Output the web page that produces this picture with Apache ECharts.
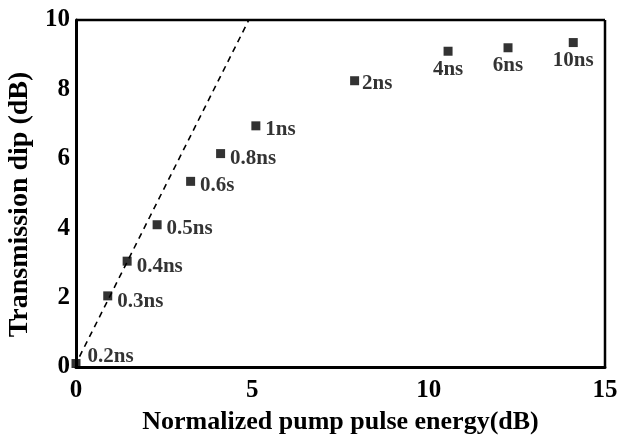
<!DOCTYPE html>
<html>
<head>
<meta charset="UTF-8">
<title></title>
<style>
  html, body { margin: 0; padding: 0; background: #fff; }
  #main { width: 622px; height: 437px; }
</style>
</head>
<body>
<div id="main"></div>
<script src="https://cdn.jsdelivr.net/npm/echarts@6/dist/echarts.min.js"></script>
<script>
// pulse durations and measured points
var pulseLabels = ['0.2ns', '0.3ns', '0.4ns', '0.5ns', '0.6s', '0.8ns', '1ns', '2ns', '4ns', '6ns', '10ns'];
var energyX = [0, 0.9, 1.45, 2.3, 3.25, 4.1, 5.1, 7.9, 10.55, 12.25, 14.1];
var dipY = [0.1, 2.05, 3.05, 4.1, 5.35, 6.15, 6.95, 8.25, 9.1, 9.2, 9.35];
// linear guide (dashed)
var guideX = [0.1, 4.9];
var guideY = [0.3, 10];

var font = 'Liberation Serif, Times New Roman, serif';

// label placement per point
var labelPos = ['right', 'right', 'right', 'right', 'right', 'right', 'right', 'right', 'bottom', 'bottom', 'bottom'];
var labelOff = [[2, -7], [0, 6], [0, 5], [0, 4], [0, 4], [0, 5], [0, 4], [-2, 3], [0, -2], [0, -2], [0, -2]];

var pts = energyX.map(function (x, i) {
  return {
    value: [x, dipY[i]],
    label: { position: labelPos[i], offset: labelOff[i], formatter: pulseLabels[i] }
  };
});

var chart = echarts.init(document.getElementById('main'));
chart.setOption({
  animation: false,
  grid: { left: 76, right: 17, top: 20, bottom: 70, outerBoundsMode: 'none', containLabel: false },
  xAxis: {
    type: 'value', min: 0, max: 15, interval: 5,
    name: 'Normalized pump pulse energy(dB)', nameLocation: 'middle', nameGap: 42,
    nameTextStyle: { fontFamily: font, fontWeight: 'bold', fontSize: 26, color: '#000' },
    axisLine: { lineStyle: { color: '#000', width: 3 } },
    axisTick: { show: false },
    splitLine: { show: false },
    axisLabel: { fontFamily: font, fontWeight: 'bold', fontSize: 25, color: '#000', margin: 11 }
  },
  yAxis: {
    type: 'value', min: 0, max: 10, interval: 2,
    name: 'Transmission dip (dB)', nameLocation: 'middle', nameGap: 41,
    nameTextStyle: { fontFamily: font, fontWeight: 'bold', fontSize: 28, color: '#000', padding: [0, 22, 0, 0] },
    axisLine: { lineStyle: { color: '#000', width: 3 } },
    axisTick: { show: false },
    splitLine: { show: false },
    axisLabel: { fontFamily: font, fontWeight: 'bold', fontSize: 25, color: '#000', margin: 6 }
  },
  series: [
    {
      type: 'line',
      data: guideX.map(function (x, i) { return [x, guideY[i]]; }),
      symbol: 'none',
      lineStyle: { color: '#000', width: 1.6, type: [6, 5] },
      z: 1
    },
    {
      type: 'scatter',
      data: pts,
      symbol: 'rect',
      symbolSize: 9,
      itemStyle: { color: '#000' },
      label: {
        show: true, distance: 5,
        fontFamily: font, fontWeight: 'bold', fontSize: 21, color: '#000'
      },
      z: 3
    }
  ],
  graphic: [
    // top and right frame lines
    { type: 'line', shape: { x1: 76, y1: 20, x2: 605, y2: 20 }, style: { stroke: '#000', lineWidth: 2.5 } },
    { type: 'line', shape: { x1: 605, y1: 20, x2: 605, y2: 367 }, style: { stroke: '#000', lineWidth: 2.5 } }
  ]
});
</script>
</body>
</html>
